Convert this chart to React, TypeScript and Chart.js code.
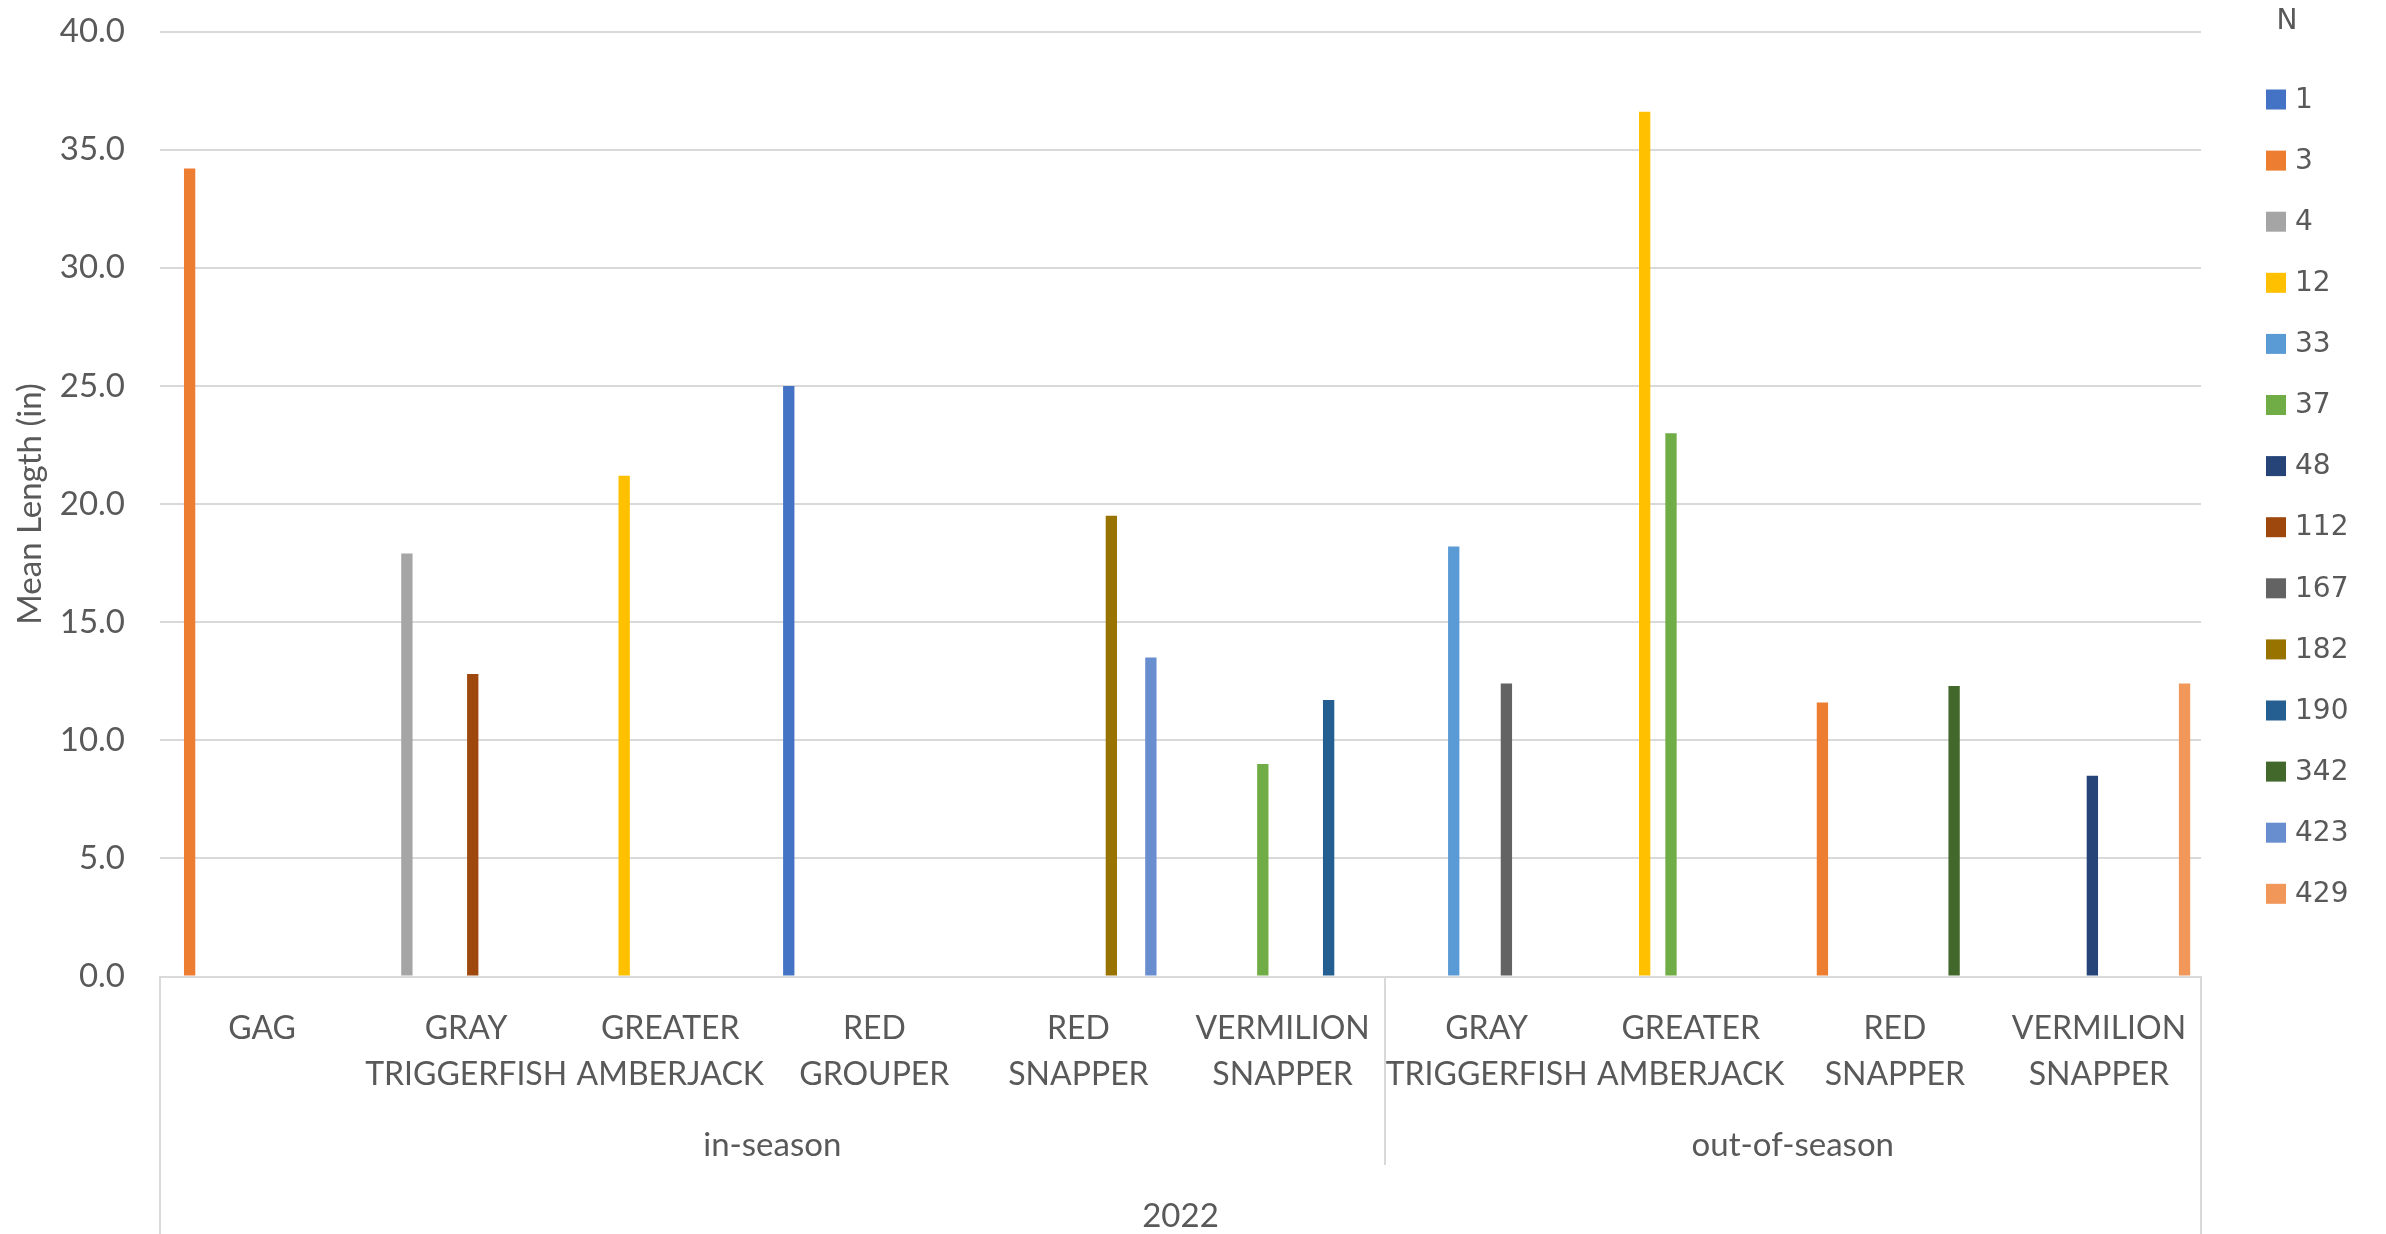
import React, { useEffect, useRef } from "react";
import { Chart, registerables } from "chart.js";

Chart.register(...registerables);

// ---------- data ----------
const categoryLabels: string[][] = [
  ["GAG"],
  ["GRAY", "TRIGGERFISH"],
  ["GREATER", "AMBERJACK"],
  ["RED", "GROUPER"],
  ["RED", "SNAPPER"],
  ["VERMILION", "SNAPPER"],
  ["GRAY", "TRIGGERFISH"],
  ["GREATER", "AMBERJACK"],
  ["RED", "SNAPPER"],
  ["VERMILION", "SNAPPER"],
];
const seasonLabels = ["in-season", "out-of-season"];
const seasonSpans = [6, 4];
const yearLabel = "2022";
const yTickValues = [0, 5, 10, 15, 20, 25, 30, 35, 40];
const legendTitle = "N";
const seriesNames = ["1", "3", "4", "12", "33", "37", "48", "112", "167", "182", "190", "342", "423", "429"];

const N1 = [null, null, null, 25.0, null, null, null, null, null, null];
const N3 = [34.2, null, null, null, null, null, null, null, 11.6, null];
const N4 = [null, 17.9, null, null, null, null, null, null, null, null];
const N12 = [null, null, 21.2, null, null, null, null, 36.6, null, null];
const N33 = [null, null, null, null, null, null, 18.2, null, null, null];
const N37 = [null, null, null, null, null, 9.0, null, 23.0, null, null];
const N48 = [null, null, null, null, null, null, null, null, null, 8.5];
const N112 = [null, 12.8, null, null, null, null, null, null, null, null];
const N167 = [null, null, null, null, null, null, 12.4, null, null, null];
const N182 = [null, null, null, null, 19.5, null, null, null, null, null];
const N190 = [null, null, null, null, null, 11.7, null, null, null, null];
const N342 = [null, null, null, null, null, null, null, null, 12.3, null];
const N423 = [null, null, null, null, 13.5, null, null, null, null, null];
const N429 = [null, null, null, null, null, null, null, null, null, 12.4];

const seriesValues = [N1, N3, N4, N12, N33, N37, N48, N112, N167, N182, N190, N342, N423, N429];

// ---------- style ----------
const seriesColors = [
  "#4472C4", "#ED7D31", "#A5A5A5", "#FFC000", "#5B9BD5", "#70AD47", "#264478",
  "#9E480E", "#636363", "#997300", "#255E91", "#43682B", "#698ED0", "#F1975A",
];
const W = 2386;
const H = 1234;
const TEXT = "#595959";
const LINE = "#d9d9d9";
const AXIS_FONT = "Lato";
const AXIS_SIZE = 33;
const CAT_SIZE = 32;
const LEGEND_FONT = "'DejaVu Sans'";
const LEGEND_SIZE = 28;

const multiLevelPlugin = {
  id: "multiLevel",
  afterDraw(chart: any) {
    const { ctx, chartArea, scales } = chart;
    const x = scales.x;
    const catW = (chartArea.right - chartArea.left) / categoryLabels.length;
    ctx.save();
    ctx.strokeStyle = LINE;
    ctx.lineWidth = 2;
    const vline = (px: number, y1: number, y2: number) => {
      ctx.beginPath();
      ctx.moveTo(Math.round(px), y1);
      ctx.lineTo(Math.round(px), y2);
      ctx.stroke();
    };
    vline(chartArea.left, chartArea.bottom, H);
    vline(chartArea.right, chartArea.bottom, H);

    ctx.fillStyle = TEXT;
    ctx.font = `${AXIS_SIZE}px ${AXIS_FONT}`;
    ctx.textAlign = "center";
    ctx.textBaseline = "middle";
    let idx = 0;
    seasonSpans.forEach((span, i) => {
      const start = x.getPixelForValue(idx) - catW / 2;
      const end = x.getPixelForValue(idx + span - 1) + catW / 2;
      ctx.fillText(seasonLabels[i], (start + end) / 2, 1145.5);
      if (i > 0) vline(start, chartArea.bottom, 1165);
      idx += span;
    });
    ctx.fillText(yearLabel, (chartArea.left + chartArea.right) / 2, 1216);

    // legend
    ctx.font = `${LEGEND_SIZE}px ${LEGEND_FONT}`;
    ctx.textAlign = "center";
    ctx.fillText(legendTitle, 2287, 22);
    ctx.textAlign = "left";
    chart.data.datasets.forEach((ds: any, i: number) => {
      const cy = 99.5 + i * 61.1;
      ctx.fillStyle = ds.backgroundColor;
      ctx.fillRect(2266, cy - 10, 20, 20);
      ctx.fillStyle = TEXT;
      ctx.fillText(ds.label, 2295, cy + 1);
    });
    ctx.restore();
  },
};

export default function App() {
  const ref = useRef<HTMLCanvasElement>(null);
  useEffect(() => {
    document.body.style.margin = "0";
    const chart = new Chart(ref.current as HTMLCanvasElement, {
      type: "bar",
      data: {
        labels: categoryLabels,
        datasets: seriesNames.map((name, i) => ({
          label: name,
          data: seriesValues[i],
          backgroundColor: seriesColors[i],
          borderWidth: 0,
        })),
      },
      options: {
        animation: false,
        responsive: false,
        devicePixelRatio: 1,
        layout: { padding: { top: 31.5, right: 185, bottom: 0, left: 0 } },
        datasets: { bar: { categoryPercentage: 14 / 15.5, barPercentage: 0.86 } },
        plugins: { legend: { display: false }, tooltip: { enabled: false } },
        scales: {
          x: {
            grid: { display: false, drawTicks: false },
            border: { display: true, color: LINE, width: 2 },
            ticks: {
              font: { family: AXIS_FONT, size: CAT_SIZE, lineHeight: 46 / CAT_SIZE },
              color: TEXT,
              padding: 29.5,
              maxRotation: 0,
              autoSkip: false,
            },
            afterFit(s: any) {
              s.height = 257.5;
              s.paddingLeft = 0;
              s.paddingRight = 0;
            },
          },
          y: {
            min: 0,
            max: 40,
            afterBuildTicks(s: any) {
              s.ticks = yTickValues.map((v) => ({ value: v }));
            },
            ticks: {
              font: { family: AXIS_FONT, size: AXIS_SIZE },
              color: TEXT,
              padding: 35,
              callback: (v: any) => Number(v).toFixed(1),
            },
            grid: { color: LINE, lineWidth: 2, drawTicks: false },
            border: { display: false },
            title: {
              display: true,
              text: "Mean Length (in)",
              font: { family: AXIS_FONT, size: AXIS_SIZE },
              color: TEXT,
              padding: { top: 11, bottom: 0 },
            },
            afterFit(s: any) {
              s.width = 160;
              s.paddingTop = 0;
              s.paddingBottom = 0;
            },
          },
        },
      },
      plugins: [multiLevelPlugin],
    } as any);
    return () => chart.destroy();
  }, []);
  return (
    <div style={{ position: "absolute", left: 0, top: 0, width: W, height: H, background: "#fff" }}>
      <canvas ref={ref} width={W} height={H} style={{ width: W, height: H, display: "block" }} />
    </div>
  );
}
